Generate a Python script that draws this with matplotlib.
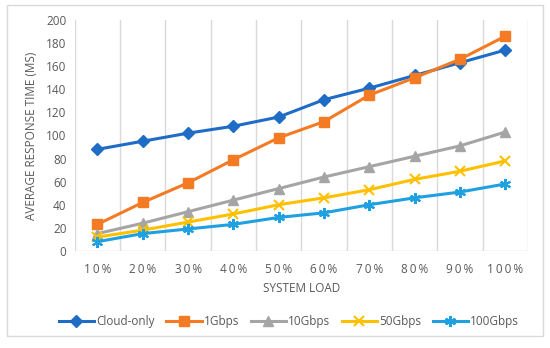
import numpy as np
import matplotlib.pyplot as plt
from matplotlib.patches import Rectangle

# values
loads = ['10%', '20%', '30%', '40%', '50%', '60%', '70%', '80%', '90%', '100%']
cloud_only = [88, 95, 102, 108, 116, 131, 141, 152, 163, 174]
gbps_1 = [23, 42, 59, 79, 98, 112, 135, 150, 166, 186]
gbps_10 = [15, 24, 34, 44, 54, 64, 73, 82, 91, 103]
gbps_50 = [12, 18, 25, 32, 40, 46, 53, 62, 69, 78]
gbps_100 = [8, 15, 19, 23, 29, 33, 40, 46, 51, 58]

plt.rcParams['font.family'] = ['Open Sans', 'DejaVu Sans']
grey = '#595959'

fig = plt.figure(figsize=(5.5, 3.48), dpi=100)
ax = fig.add_axes([0.136, 0.279, 0.824, 0.6635])

# outer chart border
fig.patches.append(Rectangle((0.013, 0.035), 0.974, 0.95, transform=fig.transFigure,
                             fill=False, edgecolor='#d9d9d9', linewidth=1))

x = np.arange(len(loads))
series = [
    ('Cloud-only', cloud_only, '#1f6cc6', 'D', 6),
    ('1Gbps', gbps_1, '#f47a23', 's', 7),
    ('10Gbps', gbps_10, '#a5a5a5', '^', 7),
    ('50Gbps', gbps_50, '#ffc000', 'x', 7),
    ('100Gbps', gbps_100, '#1fa0e0', (6, 2, 0), 8),
]
for name, vals, c, m, ms in series:
    ax.plot(x, vals, color=c, marker=m, markersize=ms, linewidth=2.2, label=name,
            markeredgewidth=1.5 if m in ('x', (6, 2, 0)) else 1)

ax.set_xlim(-0.5, len(loads) - 0.5)
ax.set_ylim(0, 200)
ax.set_yticks(range(0, 201, 20))
ax.set_xticks(x)
ax.set_xticklabels(['\u2009'.join(l) for l in loads])

# vertical gridlines at category boundaries
for b in np.arange(-0.5, len(loads), 1.0):
    ax.axvline(b, color='#d9d9d9', linewidth=1, zorder=0)

for s in ax.spines.values():
    s.set_visible(False)
ax.axhline(0, color='#d9d9d9', linewidth=1, zorder=0)
ax.tick_params(length=0, colors=grey, labelsize=8.5)
ax.tick_params(axis='x', pad=9)
ax.tick_params(axis='y', pad=6)

ax.set_xlabel('SYSTEM LOAD', color=grey, fontsize=8.5, labelpad=4)
ax.set_ylabel('AVERAGE RESPONSE TIME (MS)', color=grey, fontsize=8.5, labelpad=6)

leg = fig.legend(loc='center', bbox_to_anchor=(0.525, 0.075), ncol=5, frameon=False,
                 fontsize=8.5, handlelength=3.0, columnspacing=1.0, handletextpad=0.15)
for t in leg.get_texts():
    t.set_color(grey)

fig.savefig('out.png', dpi=100)
